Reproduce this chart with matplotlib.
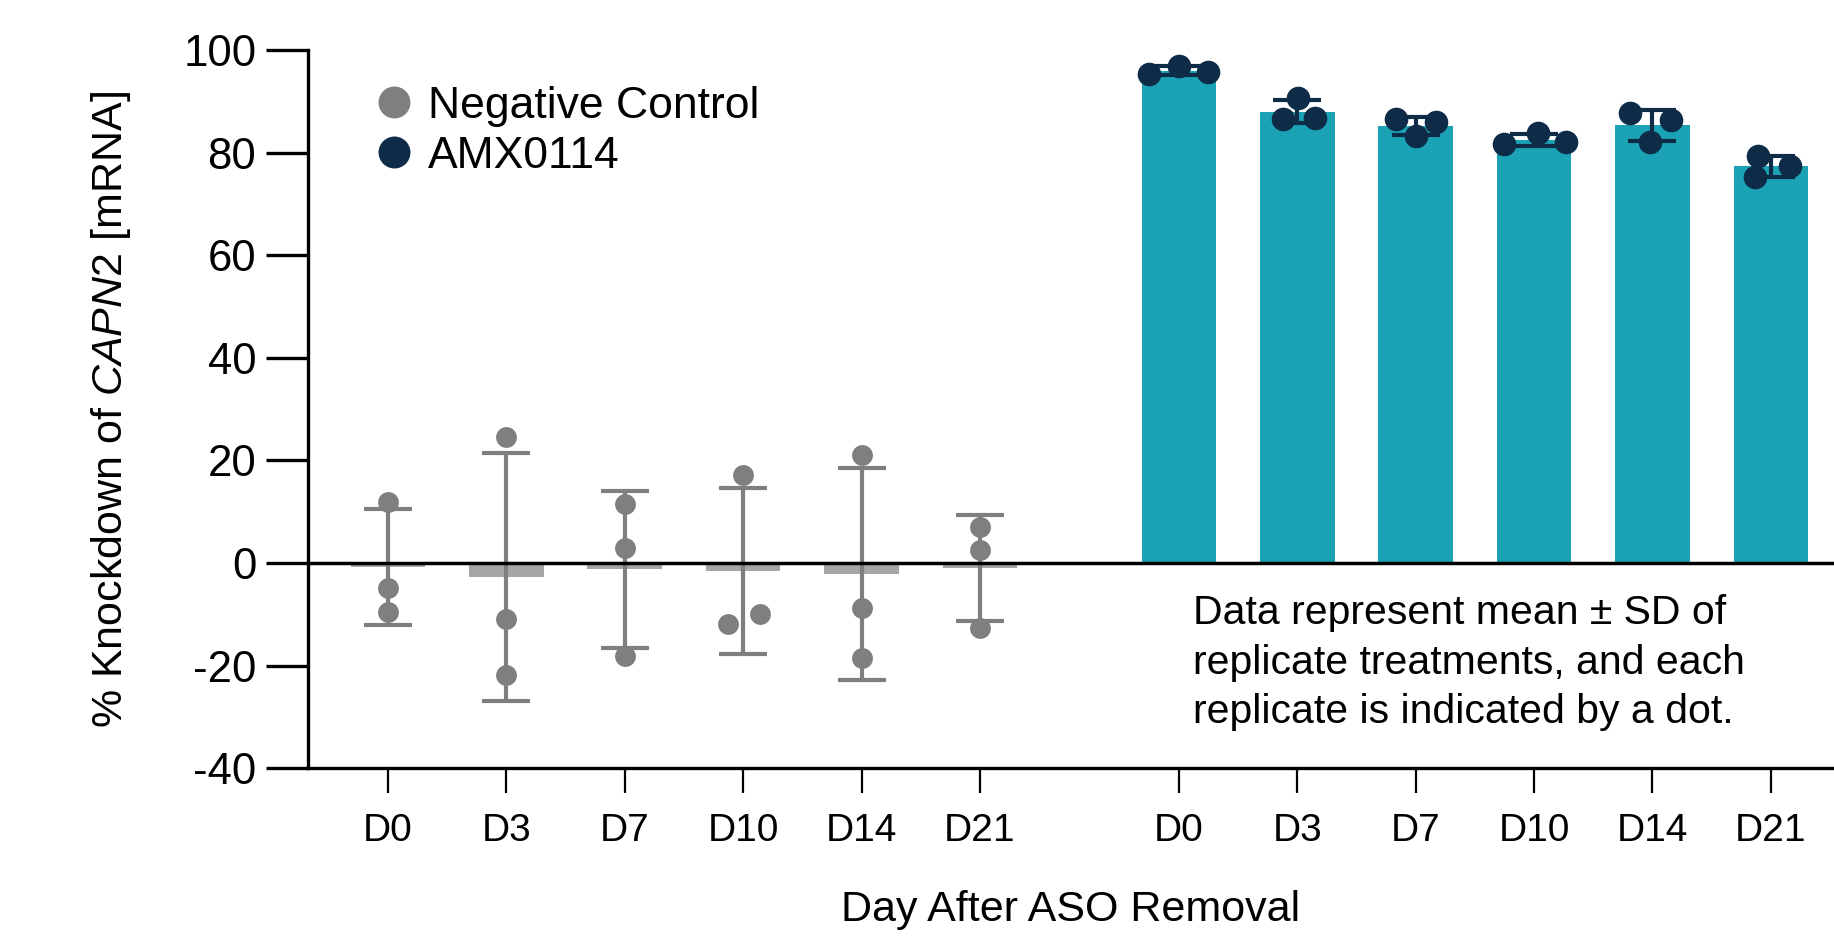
import numpy as np
import matplotlib
matplotlib.use("Agg")
import matplotlib.pyplot as plt
from matplotlib.lines import Line2D

plt.rcParams['font.family'] = ['Liberation Sans', 'DejaVu Sans']
plt.rcParams['axes.unicode_minus'] = False
plt.rcParams['mathtext.fontset'] = 'custom'
plt.rcParams['mathtext.rm'] = 'Liberation Sans'
plt.rcParams['mathtext.it'] = 'Liberation Sans:italic'

days = ['D0', 'D3', 'D7', 'D10', 'D14', 'D21']

# replicate values (% knockdown), three per day
neg_ctrl = [
    [11.9, -4.9, -9.6],
    [24.5, -10.9, -21.8],
    [11.5, 3.0, -18.2],
    [17.2, -11.9, -9.9],
    [21.1, -8.8, -18.5],
    [7.1, 2.6, -12.7],
]
amx0114 = [
    [95.3, 96.9, 95.7],
    [90.6, 86.5, 86.8],
    [86.5, 86.0, 83.2],
    [81.7, 83.8, 82.0],
    [87.8, 86.3, 82.0],
    [79.3, 77.3, 75.3],
]
# small horizontal offsets of the replicate dots
neg_jitter = [
    [0, 0, 0], [0, 0, 0], [0, 0, 0],
    [0, -0.13, 0.14], [0, 0, 0], [0, 0, 0],
]
amx_jitter = [
    [-0.25, 0.0, 0.25], [0.01, -0.12, 0.15], [-0.17, 0.17, 0.0],
    [-0.25, 0.03, 0.27], [-0.19, 0.16, -0.02], [-0.11, 0.16, -0.13],
]

grey = '#7f7f7f'
grey_bar = '#a6a6a6'
teal = '#1ba2b4'
navy = '#0e2c48'

x_neg = np.arange(6)
x_amx = np.arange(6) + 6.68

neg_mean = np.array([np.mean(v) for v in neg_ctrl])
neg_sd = np.array([np.std(v, ddof=1) for v in neg_ctrl])
amx_mean = np.array([np.mean(v) for v in amx0114])
amx_sd = np.array([np.std(v, ddof=1) for v in amx0114])

fig = plt.figure(figsize=(18.34, 9.36), dpi=100)
ax = fig.add_axes([0.1678, 0.1792, 0.8322, 0.7674])

bw = 0.63
ax.bar(x_neg, neg_mean, width=bw, color=grey_bar, zorder=1)
ax.bar(x_amx, amx_mean, width=bw, color=teal, zorder=1)

ax.errorbar(x_neg, neg_mean, yerr=neg_sd, fmt='none', ecolor=grey,
            elinewidth=3, capsize=17, capthick=3, zorder=2)
ax.errorbar(x_amx, amx_mean, yerr=amx_sd, fmt='none', ecolor=navy,
            elinewidth=3, capsize=17, capthick=3, zorder=2)

for i in range(6):
    ax.plot(x_neg[i] + np.array(neg_jitter[i]), neg_ctrl[i], 'o', color=grey,
            ms=15, mec='none', zorder=3)
    ax.plot(x_amx[i] + np.array(amx_jitter[i]), amx0114[i], 'o', color=navy,
            ms=17, mec='none', zorder=3)

ax.axhline(0, color='black', lw=2.5, zorder=4)

ax.set_ylim(-40, 100)
ax.set_xlim(-0.677, 12.213)
ax.set_yticks([-40, -20, 0, 20, 40, 60, 80, 100])
ax.set_xticks(np.concatenate([x_neg, x_amx]))
ax.set_xticklabels(days + days)

for s in ['top', 'right']:
    ax.spines[s].set_visible(False)
ax.spines['left'].set_linewidth(2.4)
ax.spines['bottom'].set_linewidth(2.4)
ax.tick_params(axis='y', length=30, width=2.4, labelsize=31.5, pad=7)
ax.tick_params(axis='x', length=18, width=1.6, labelsize=28, pad=14)

ax.set_ylabel(r'% Knockdown of $\mathit{CAPN2}$ [mRNA]', fontsize=31, labelpad=36)
ax.set_xlabel('Day After ASO Removal', fontsize=31, labelpad=30)

handles = [Line2D([], [], ls='', marker='o', color=grey, ms=23, mec='none'),
           Line2D([], [], ls='', marker='o', color=navy, ms=23, mec='none')]
ax.legend(handles, ['Negative Control', 'AMX0114'], loc='upper left',
          bbox_to_anchor=(0.035, 0.975), frameon=False, fontsize=32,
          handlelength=0.7, handletextpad=0.4, labelspacing=0.2,
          borderaxespad=0)

fig.text(0.6505, 0.365, 'Data represent mean \u00b1 SD of\nreplicate treatments, and each\nreplicate is indicated by a dot.',
         fontsize=29.5, va='top', ha='left', linespacing=1.38)

fig.savefig('out.png', dpi=100)
